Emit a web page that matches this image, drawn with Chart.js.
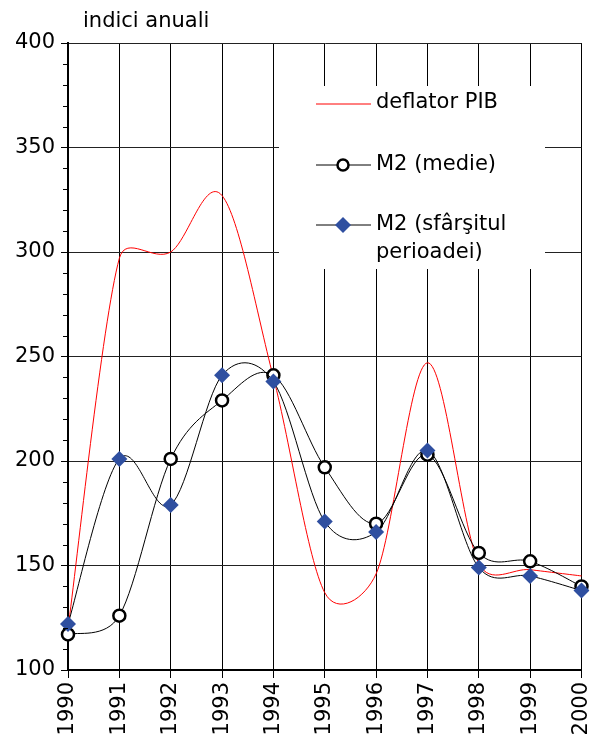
<!DOCTYPE html>
<html>
<head>
<meta charset="utf-8">
<script src="https://cdn.jsdelivr.net/npm/chart.js@4.4.1/dist/chart.umd.min.js"></script>
<style>
  body { margin: 0; background: #fff; }
  #wrap { width: 590px; height: 744px; position: relative; }
</style>
</head>
<body>
<div id="wrap"><canvas id="grafic"></canvas></div>
<script>
const ani = ['1990', '1991', '1992', '1993', '1994', '1995', '1996', '1997', '1998', '1999', '2000'];
const deflatorPIB = [120, 297, 300, 327, 240, 137, 146, 247, 151, 148, 145];
const m2Medie = [117, 126, 201, 229, 241, 197, 170, 203, 156, 152, 140];
const m2Sfarsit = [122, 201, 179, 241, 238, 171, 166, 205, 149, 145, 138];
const yTicks = [100, 150, 200, 250, 300, 350, 400];

const FONT = 'DejaVu Sans';
const albastru = '#2f4fa0';

// netezire in stilul Excel: tangenta (P[i+1]-P[i-1])/6, brat limitat la jumatate din segment
const netezire = {
  id: 'netezire',
  beforeDatasetsDraw(chart) {
    chart.data.datasets.forEach((ds, di) => {
      const meta = chart.getDatasetMeta(di);
      const pts = meta.data;
      if (!meta.dataset) return;
      meta.dataset._pointsUpdated = true;
      for (let i = 0; i < pts.length; i++) {
        const p = pts[i];
        const prev = pts[i - 1] || p;
        const next = pts[i + 1] || p;
        const tx = (next.x - prev.x) / 6;
        const ty = (next.y - prev.y) / 6;
        const L = Math.hypot(tx, ty) || 1;
        let sIn = 1, sOut = 1;
        if (i > 0) {
          const d = Math.hypot(p.x - prev.x, p.y - prev.y);
          if (L > 0.5 * d) sIn = 0.5 * d / L;
        }
        if (i < pts.length - 1) {
          const d = Math.hypot(next.x - p.x, next.y - p.y);
          if (L > 0.5 * d) sOut = 0.5 * d / L;
        }
        p.cp1x = p.x - tx * sIn;
        p.cp1y = p.y - ty * sIn;
        p.cp2x = p.x + tx * sOut;
        p.cp2y = p.y + ty * sOut;
      }
    });
  }
};

// mici repere pe axa Y, din 10 in 10
const repereMici = {
  id: 'repereMici',
  afterDraw(chart) {
    const ctx = chart.ctx;
    const y = chart.scales.y;
    ctx.save();
    ctx.strokeStyle = '#000';
    ctx.lineWidth = 1;
    for (let v = 110; v < 400; v += 10) {
      if (v % 50 === 0) continue;
      const py = Math.round(y.getPixelForValue(v)) + 0.5;
      ctx.beginPath();
      ctx.moveTo(y.right - 5, py);
      ctx.lineTo(y.right, py);
      ctx.stroke();
    }
    ctx.restore();
  }
};

const titluSiLegenda = {
  id: 'titluSiLegenda',
  afterDraw(chart) {
    const ctx = chart.ctx;
    ctx.save();
    ctx.font = '21px "' + FONT + '"';
    ctx.fillStyle = '#000';
    ctx.textBaseline = 'alphabetic';
    ctx.fillText('indici anuali', 83, 27);

    // fundal alb legenda
    ctx.fillStyle = '#fff';
    ctx.fillRect(279, 86, 266, 183);

    const x0 = 316, x1 = 371, xt = 376;
    ctx.textBaseline = 'middle';

    // deflator PIB
    ctx.strokeStyle = '#ff0000';
    ctx.lineWidth = 1;
    ctx.beginPath(); ctx.moveTo(x0, 104); ctx.lineTo(x1, 104); ctx.stroke();
    ctx.fillStyle = '#000';
    ctx.fillText('deflator PIB', xt, 103);

    // M2 medie
    ctx.strokeStyle = '#000';
    ctx.beginPath(); ctx.moveTo(x0, 165); ctx.lineTo(x1, 165); ctx.stroke();
    ctx.beginPath();
    ctx.arc(343, 165, 5.5, 0, Math.PI * 2);
    ctx.fillStyle = '#fff';
    ctx.fill();
    ctx.lineWidth = 2.5;
    ctx.stroke();
    ctx.fillStyle = '#000';
    ctx.fillText('M2 (medie)', xt, 165);

    // M2 sfarsitul perioadei
    ctx.lineWidth = 1;
    ctx.beginPath(); ctx.moveTo(x0, 225); ctx.lineTo(x1, 225); ctx.stroke();
    ctx.fillStyle = albastru;
    ctx.beginPath();
    ctx.moveTo(343, 217); ctx.lineTo(351, 225); ctx.lineTo(343, 233); ctx.lineTo(335, 225);
    ctx.closePath();
    ctx.fill();
    ctx.fillStyle = '#000';
    ctx.fillText('M2 (sfârşitul', xt, 225);
    ctx.fillText('perioadei)', xt, 253);
    ctx.restore();
  }
};

new Chart(document.getElementById('grafic'), {
  type: 'line',
  data: {
    labels: ani,
    datasets: [
      {
        label: 'deflator PIB',
        data: deflatorPIB,
        borderColor: '#ff0000',
        borderWidth: 1,
        pointRadius: 0,
        tension: 0.4,
        order: 2
      },
      {
        label: 'M2 (medie)',
        data: m2Medie,
        borderColor: '#000',
        borderWidth: 1,
        pointStyle: 'circle',
        pointRadius: 6,
        pointBorderWidth: 2.5,
        pointBackgroundColor: '#fff',
        pointBorderColor: '#000',
        tension: 0.4,
        order: 1
      },
      {
        label: 'M2 (sfârşitul perioadei)',
        data: m2Sfarsit,
        borderColor: '#000',
        borderWidth: 1,
        pointStyle: 'rectRot',
        pointRadius: 8,
        pointBorderWidth: 0,
        pointBackgroundColor: albastru,
        pointBorderColor: albastru,
        tension: 0.4,
        order: 0
      }
    ]
  },
  options: {
    responsive: true,
    maintainAspectRatio: false,
    animation: false,
    layout: { padding: { top: 43, right: 7, left: 0, bottom: 0 } },
    plugins: {
      legend: { display: false },
      tooltip: { enabled: false }
    },
    scales: {
      x: {
        offset: false,
        grid: { color: '#000', lineWidth: 1, tickLength: 8, tickColor: '#000' },
        border: { color: '#000', width: 2 },
        ticks: {
          autoSkip: false,
          minRotation: 90,
          maxRotation: 90,
          padding: 4,
          color: '#000',
          font: { family: FONT, size: 21 }
        },
        afterFit(scale) {
          scale.height = 74;
          scale.paddingLeft = 0;
          scale.paddingRight = 0;
        }
      },
      y: {
        min: 100,
        max: 400,
        afterBuildTicks(scale) { scale.ticks = yTicks.map(v => ({ value: v })); },
        grid: { color: '#222', lineWidth: 1, tickLength: 7, tickColor: '#000' },
        border: { color: '#000', width: 2 },
        ticks: {
          padding: 6,
          color: '#000',
          font: { family: FONT, size: 21 }
        },
        afterFit(scale) { scale.width = 68; }
      }
    }
  },
  plugins: [netezire, repereMici, titluSiLegenda]
});
</script>
</body>
</html>
